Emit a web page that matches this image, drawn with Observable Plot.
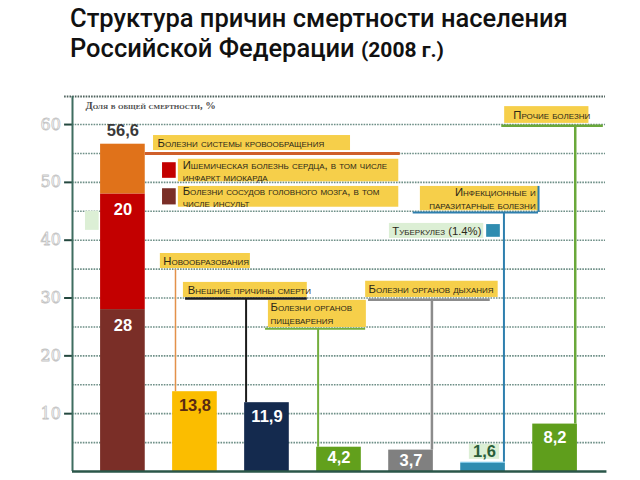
<!DOCTYPE html>
<html><head><meta charset="utf-8">
<script src="https://cdn.jsdelivr.net/npm/d3@7"></script>
<script src="https://cdn.jsdelivr.net/npm/@observablehq/plot@0.6"></script>
<style>
body{margin:0;background:#fff;}
#wrap{width:640px;height:480px;position:relative;overflow:hidden;background:#fff;}
#title{height:80px;box-sizing:border-box;padding:3px 0 0 70px;font-family:Roboto,"Liberation Sans",sans-serif;font-weight:500;font-size:25.5px;line-height:30px;color:#111;}
#title .yr{font-size:21px;font-weight:700;}
#chart svg{display:block;}
</style></head><body>
<div id="wrap"><div id="title">Структура причин смертности населения<br>Российской Федерации <span class="yr">(2008 г.)</span></div><div id="chart"></div></div>
<script>
// ---------- data ----------
const causes = ["Болезни системы кровообращения", "Новообразования", "Внешние причины смерти",
  "Болезни органов пищеварения", "Болезни органов дыхания", "Инфекционные и паразитарные болезни", "Прочие болезни"];
const totals = [56.6, 13.8, 11.9, 4.2, 3.7, 1.6, 8.2];
const totalLabels = ["56,6", "13,8", "11,9", "4,2", "3,7", "1,6", "8,2"];
const circParts = ["Болезни сосудов головного мозга, в том числе инсульт",
  "Ишемическая болезнь сердца, в том числе инфаркт миокарда", "Прочие болезни системы кровообращения"];
const circValues = [28, 20, 8.6];
const circLabels = ["28", "20", ""];
const infParts = ["Туберкулез", "Прочие инфекционные и паразитарные болезни"];
const infValues = [1.4, 0.2];
const yTicks = [10, 20, 30, 40, 50, 60];
const yTickLabels = ["10", "20", "30", "40", "50", "60"];
const gridValues = [5, 10, 15, 20, 25, 30, 35, 40, 45, 50, 55, 60];
const axisTitle = "Доля в общей смертности, %";

// ---------- styles ----------
const circColors = ["#7a2e27", "#c30000", "#e0721a"];
const infColors = ["#2f8cb0", "#74c3e4"];
const barColors = [null, "#fbbd00", "#142a4e", "#62a01c", "#808080", null, "#5f9e1c"];
const labelColors = ["#3a3a3a", "#5a2a12", "#fff", "#fff", "#fff", "#2b5e3a", "#fff"];
const BOX = "#f6cf4a", PALE = "#dcefd5";
const HW = 0.31; // half bar width in category units
const YMAX = 64.85;

// ---------- build bar segments ----------
const segments = [];
totals.forEach((t, i) => {
  let vals, cols, names;
  if (i === 0) { vals = circValues; cols = circColors; names = circParts; }
  else if (i === 5) { vals = infValues; cols = infColors; names = infParts; }
  else { vals = [t]; cols = [barColors[i]]; names = [causes[i]]; }
  let acc = 0;
  vals.forEach((v, k) => {
    segments.push({i, name: names[k], y1: acc, y2: acc + v, fill: cols[k]});
    acc += v;
  });
});
const barLabels = totals.map((t, i) => ({i, y: t, text: totalLabels[i], fill: labelColors[i]}));
const circCum = d3.cumsum(circValues);
const innerLabels = circLabels.map((l, k) => ({i: 0, y: circCum[k], text: l})).filter(d => d.text);

// ---------- annotation layout (category index / percent units) ----------
const boxes = [
  {x1: 0.425, x2: 3.16, y1: 55.5, y2: 58.1, fill: BOX},
  {x1: 0.77, x2: 3.83, y1: 50.1, y2: 54.0, fill: BOX},
  {x1: 0.77, x2: 3.83, y1: 45.7, y2: 49.3, fill: BOX},
  {x1: 0.52, x2: 1.77, y1: 35.1, y2: 37.7, fill: BOX},
  {x1: 0.84, x2: 2.56, y1: 30.1, y2: 32.7, fill: BOX},
  {x1: 2.02, x2: 3.38, y1: 24.9, y2: 29.6, fill: BOX},
  {x1: 3.37, x2: 5.21, y1: 30.1, y2: 32.9, fill: BOX},
  {x1: 4.13, x2: 5.77, y1: 45.1, y2: 49.3, fill: BOX},
  {x1: 5.30, x2: 6.47, y1: 60.2, y2: 63.1, fill: BOX},
  {x1: 3.70, x2: 5.01, y1: 40.3, y2: 42.9, fill: PALE},
  {x1: -0.52, x2: -0.33, y1: 41.7, y2: 45.0, fill: PALE},
  {x1: 4.81, x2: 5.23, y1: totals[5] + 0.5, y2: totals[5] + 3.1, fill: PALE},
  {x1: 0.55, x2: 0.74, y1: 50.7, y2: 53.4, fill: circColors[1]},
  {x1: 0.55, x2: 0.74, y1: 46.1, y2: 48.9, fill: circColors[0]},
  {x1: 5.05, x2: 5.24, y1: 40.5, y2: 42.7, fill: infColors[0]}
];
const hLinks = [
  {y: 55.0, x1: 0.31, x2: 3.85, stroke: "#cf5f2a", w: 3},
  {y: 29.9, x1: 0.87, x2: 2.56, stroke: "#1b1b1b", w: 2.5},
  {y: 24.7, x1: 1.98, x2: 3.37, stroke: "#74ae3e", w: 2},
  {y: 29.7, x1: 3.41, x2: 5.10, stroke: "#8c8c8c", w: 2.5},
  {y: 44.8, x1: 4.03, x2: 5.77, stroke: "#2e7fae", w: 2},
  {y: 59.8, x1: 5.26, x2: 6.67, stroke: "#6aa83a", w: 2.5}
];
const vLinks = [
  {x: 0.73, y1: 34.9, y2: totals[1], stroke: "#e3914a", w: 1.5},
  {x: 1.71, y1: 29.9, y2: totals[2], stroke: "#1b1b1b", w: 2},
  {x: 2.71, y1: 24.7, y2: totals[3], stroke: "#74ae3e", w: 2},
  {x: 4.29, y1: 29.7, y2: totals[4], stroke: "#8c8c8c", w: 2.5},
  {x: 5.77, y1: 44.8, y2: 49.3, stroke: "#2e7fae", w: 2},
  {x: 5.29, y1: 44.8, y2: totals[5], stroke: "#2e7fae", w: 2},
  {x: 6.28, y1: 59.8, y2: totals[6], stroke: "#6aa83a", w: 2.5}
];
const notesLeft = [
  {x: 0.48, y: 56.8, text: "Болезни системы кровообращения"},
  {x: 0.83, y: 52.0, text: "Ишемическая болезнь сердца, в том числе\nинфаркт миокарда"},
  {x: 0.83, y: 47.5, text: "Болезни сосудов головного мозга, в том\nчисле инсульт"},
  {x: 0.56, y: 36.4, text: "Новообразования"},
  {x: 0.90, y: 31.4, text: "Внешние причины смерти"},
  {x: 2.05, y: 27.3, text: "Болезни органов\nпищеварения"},
  {x: 3.41, y: 31.5, text: "Болезни органов дыхания"},
  {x: 3.74, y: 41.6, text: "Туберкулез (1.4%)"},
  {x: 5.42, y: 61.7, text: "Прочие болезни"}
];
const notesRight = [
  {x: 5.73, y: 47.2, text: "Инфекционные и\nпаразитарные болезни"}
];

const noteStyle = {fill: "#2c2818", fontSize: 11.3, fontVariant: "small-caps", fontFamily: "'Liberation Sans', Arial, sans-serif", lineHeight: 1.08};
const valStyle = {fontSize: 16.5, fontWeight: "bold", fontFamily: "'Liberation Sans', Arial, sans-serif"};

const chart = Plot.plot({
  width: 640, height: 400,
  marginLeft: 72, marginRight: 35, marginTop: 16, marginBottom: 9,
  x: {domain: [-0.7, 6.7], axis: null},
  y: {domain: [0, YMAX], axis: null},
  style: {background: "#fff", overflow: "visible"},
  marks: [
    Plot.ruleY(gridValues, {x1: -0.7, x2: 6.7, stroke: "#6e8f87", strokeWidth: 1.6, strokeDasharray: "1.6,1.1"}),
    Plot.ruleY([YMAX], {x1: -0.81, x2: 6.7, stroke: "#4f625d", strokeWidth: 1.8, strokeDasharray: "1.6,1.1"}),
    Plot.ruleY(yTicks, {x1: -0.81, x2: -0.7, stroke: "#24483f", strokeWidth: 2}),
    Plot.text(yTicks, {x: -0.86, y: d => d, text: (d, k) => yTickLabels[k], textAnchor: "end",
      fill: "#fcfcfc", stroke: "#c4c4c4", strokeWidth: 0.8, paintOrder: "normal", fontSize: 16, fontFamily: "'DejaVu Serif', serif"}),
    Plot.text([axisTitle], {x: -0.52, y: 63.3, text: d => d, textAnchor: "start", fill: "#4a4a4a", fontWeight: "bold",
      fontSize: 10.5, fontVariant: "small-caps", fontFamily: "'Liberation Serif', serif"}),
    Plot.rect(boxes, {x1: "x1", x2: "x2", y1: "y1", y2: "y2", fill: "fill"}),
    Plot.ruleY(hLinks, {y: "y", x1: "x1", x2: "x2", stroke: "stroke", strokeWidth: d => d.w}),
    Plot.ruleX(vLinks, {x: "x", y1: "y1", y2: "y2", stroke: "stroke", strokeWidth: d => d.w}),
    Plot.rect(segments, {x1: d => d.i - HW, x2: d => d.i + HW, y1: "y1", y2: "y2", fill: "fill", title: "name"}),
    Plot.ruleX([-0.7], {y1: 0, y2: YMAX, stroke: "#3f6d60", strokeWidth: 2}),
    Plot.ruleY([0], {x1: -0.7, x2: 6.72, stroke: "#2a5649", strokeWidth: 2.5}),
    Plot.text(notesLeft, {x: "x", y: "y", text: "text", textAnchor: "start", ...noteStyle}),
    Plot.text(notesRight, {x: "x", y: "y", text: "text", textAnchor: "end", ...noteStyle}),
    Plot.text(barLabels.filter(d => d.i === 0), {x: "i", y: "y", text: "text", fill: "fill", dy: -13, ...valStyle}),
    Plot.text(barLabels.filter(d => d.i === 5), {x: d => d.i + 0.02, y: d => d.y + 1.8, text: "text", fill: "fill", ...valStyle}),
    Plot.text(barLabels.filter(d => d.i !== 0 && d.i !== 5 && d.y > 6), {x: "i", y: "y", text: "text", fill: "fill", dy: 14, ...valStyle}),
    Plot.text(barLabels.filter(d => d.i !== 0 && d.i !== 5 && d.y <= 6), {x: "i", y: "y", text: "text", fill: "fill", dy: 11, ...valStyle}),
    Plot.text(innerLabels, {x: "i", y: "y", text: "text", fill: "#fff", dy: 16, ...valStyle})
  ]
});
document.getElementById("chart").appendChild(chart);
</script>
</body></html>
